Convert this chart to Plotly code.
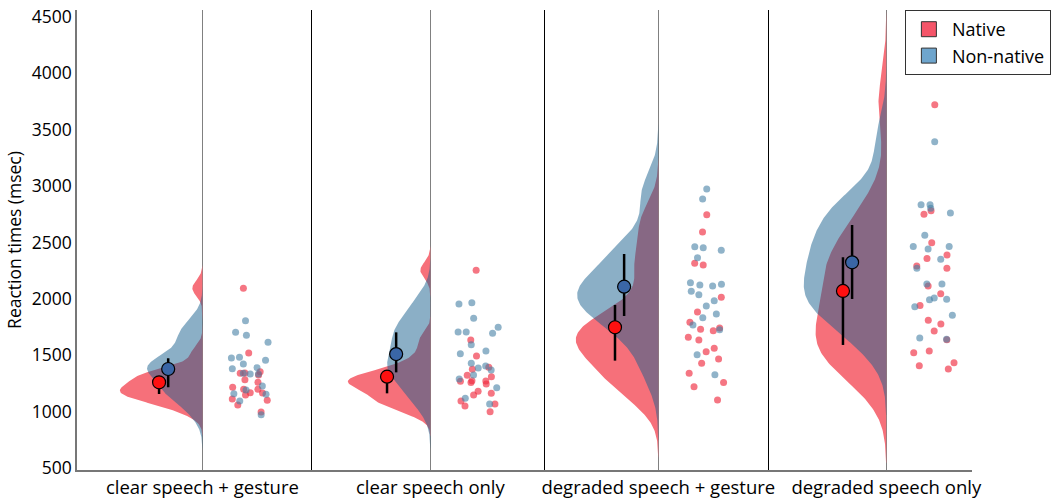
import numpy as np
import plotly.graph_objects as go

categories = ["clear speech + gesture", "clear speech only",
              "degraded speech + gesture", "degraded speech only"]
groups = ["Native", "Non-native"]

native_points = [
    [2094, 1520, 1325, 1343, 1354, 1340, 1283, 1260, 1198, 1215, 1168, 1147, 1112, 1165, 1198, 1100, 1059, 997],
    [2253, 1635, 1493, 1375, 1393, 1272, 1310, 1257, 1245, 1274, 1322, 1269, 1180, 1162, 1147, 1094, 1050, 1068, 999],
    [2747, 2593, 2315, 2300, 2014, 1884, 1792, 1718, 1742, 1730, 1659, 1635, 1561, 1531, 1467, 1429, 1340, 1257, 1221, 1103],
    [3722, 2782, 2750, 2498, 2389, 2357, 2271, 2292, 2114, 2046, 1940, 1777, 1810, 1715, 1638, 1523, 1538, 1434, 1407, 1378],
]
nonnative_points = [
    [1806, 1703, 1677, 1615, 1455, 1475, 1482, 1422, 1390, 1381, 1334, 1334, 1227, 1154, 1159, 1192, 1094, 973, 1340],
    [1966, 1955, 1828, 1748, 1706, 1706, 1694, 1594, 1538, 1514, 1429, 1387, 1369, 1405, 1325, 1289, 1212, 1118, 1068],
    [2974, 2885, 2454, 2430, 2462, 2365, 2123, 2114, 2129, 2143, 2067, 2037, 1984, 1937, 1866, 1833, 1768, 1727, 1505, 1327],
    [3394, 2835, 2835, 2803, 2762, 2564, 2464, 2443, 2464, 2352, 2271, 2132, 2132, 1993, 1996, 2008, 1931, 1854, 1653, 1641],
]

native_mean = [1260, 1310, 1748, 2070]
native_ci_low = [1156, 1162, 1452, 1591]
native_ci_high = [1316, 1369, 1946, 2369]
nonnative_mean = [1378, 1510, 2108, 2324]
nonnative_ci_low = [1216, 1348, 1848, 1999]
nonnative_ci_high = [1473, 1703, 2398, 2655]

y_ticks = [500, 1000, 1500, 2000, 2500, 3000, 3500, 4000, 4500]

# ---- styles ----
FILL = {"Native": "rgba(246,112,122,1)", "Non-native": "rgba(23,95,141,0.5)"}
PTS = {"Native": "rgba(240,45,65,0.65)", "Non-native": "rgba(70,128,165,0.6)"}
MEAN_COL = {"Native": "#ff1010", "Non-native": "#3a66a6"}
LEG_COL = {"Native": "#f55569", "Non-native": "#6ea5cd"}
MEAN_OFFSET = {"Native": -0.19, "Non-native": -0.15}
HALF_W = 0.362          # max half-violin width (x units)
FONT = "Open Sans"


def nrd0(v):
    v = np.asarray(v, dtype=float)
    sd = v.std(ddof=1)
    iqr = np.subtract(*np.percentile(v, [75, 25]))
    return 0.9 * min(sd, iqr / 1.34) * len(v) ** -0.2


def kde(v, bw, grid):
    v = np.asarray(v, dtype=float)
    z = (grid[:, None] - v[None, :]) / bw
    return np.exp(-0.5 * z ** 2).sum(axis=1) / (len(v) * bw * np.sqrt(2 * np.pi))


pts_by_group = {"Native": native_points, "Non-native": nonnative_points}

# densities (Gaussian KDE, R's nrd0 bandwidth, extended 3 bandwidths), shared scale per condition
dens = {}
for g in groups:
    for i, vals in enumerate(pts_by_group[g]):
        bw = nrd0(vals)
        grid = np.linspace(min(vals) - 3 * bw, max(vals) + 3 * bw, 300)
        dens[(g, i)] = (grid, kde(vals, bw, grid))

fig = go.Figure()
for g in groups:
    for i in range(len(categories)):
        grid, d = dens[(g, i)]
        dmax = max(dens[(gg, i)][1].max() for gg in groups)
        w = d / dmax * HALF_W
        xs = np.concatenate([i - w, np.full(len(grid), float(i))[::-1]])
        ys = np.concatenate([grid, grid[::-1]])
        fig.add_trace(go.Scatter(
            x=xs, y=ys, mode="lines", fill="toself", fillcolor=FILL[g],
            line=dict(width=0), showlegend=False, hoverinfo="skip",
        ))

# jittered raw points (violin traces used only for their point cloud)
for g in groups:
    for i, vals in enumerate(pts_by_group[g]):
        fig.add_trace(go.Violin(
            x=[i] * len(vals), y=vals, name=g, showlegend=False,
            side="negative", width=0.75, fillcolor="rgba(0,0,0,0)", line=dict(width=0),
            points="all", pointpos=0.57, jitter=0.3,
            marker=dict(color=PTS[g], size=7, line=dict(width=0)),
            hoveron="points",
        ))

means = {"Native": (native_mean, native_ci_low, native_ci_high),
         "Non-native": (nonnative_mean, nonnative_ci_low, nonnative_ci_high)}
for g in groups:
    m, lo, hi = means[g]
    fig.add_trace(go.Scatter(
        x=[i + MEAN_OFFSET[g] for i in range(len(categories))], y=m, mode="markers",
        showlegend=False,
        marker=dict(color=MEAN_COL[g], size=13, line=dict(color="black", width=1.2)),
        error_y=dict(type="data", symmetric=False,
                     array=[h - v for h, v in zip(hi, m)],
                     arrayminus=[v - l for v, l in zip(m, lo)],
                     color="black", thickness=2.5, width=0),
    ))

for g in groups:
    fig.add_trace(go.Scatter(
        x=[None], y=[None], mode="markers", name=g,
        marker=dict(symbol="square", size=15, color=LEG_COL[g], line=dict(color="#333", width=1)),
    ))

fig.update_layout(
    width=1061, height=499,
    margin=dict(l=77, r=85, t=10, b=29),
    paper_bgcolor="white", plot_bgcolor="white",
    violinmode="overlay", violingap=0, violingroupgap=0,
    font=dict(family=FONT, size=17, color="black"),
    legend=dict(x=0.925, y=1.0, xanchor="left", yanchor="top",
                bgcolor="white", bordercolor="#333", borderwidth=1,
                font=dict(size=18), tracegroupgap=0, itemwidth=36),
    xaxis=dict(range=[-0.55, 3.376], tickmode="array", tickvals=list(range(len(categories))),
               ticktext=categories, tickfont=dict(size=18.5),
               showgrid=True, gridcolor="#808080", gridwidth=1,
               zeroline=False, showline=True, linecolor="#777", linewidth=1.5, ticks="",
               automargin=False,
               minor=dict(tickmode="array", tickvals=[0.48, 1.5, 2.485], showgrid=True,
                          gridcolor="black", gridwidth=1.2, ticks="")),
    yaxis=dict(range=[482, 4562], tickmode="array", tickvals=y_ticks, tickfont=dict(size=17.5),
               showgrid=False, zeroline=False, showline=True, linecolor="#777", linewidth=1.5,
               ticks="", automargin=False,
               title=dict(text="Reaction times (msec)", standoff=6, font=dict(size=17.5))),
)

fig.write_html("out.html", config={"displayModeBar": False},
               post_script="document.body.style.margin='0px';")
